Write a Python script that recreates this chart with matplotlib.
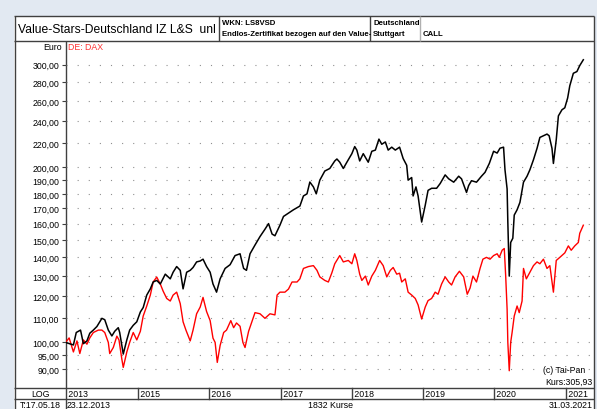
import matplotlib
matplotlib.use('Agg')
import matplotlib.pyplot as plt
from matplotlib.patches import Rectangle
from matplotlib.ticker import FixedLocator, FuncFormatter, NullLocator
from matplotlib.transforms import blended_transform_factory

plt.rcParams['font.family'] = ['Liberation Sans', 'DejaVu Sans']

# Zeit als Dezimaljahr, Kurs in Euro (Zertifikat) bzw. DAX normiert auf Startwert 100
vs_t = [2013.98, 2014.09, 2014.13, 2014.19, 2014.23, 2014.28, 2014.32, 2014.37, 2014.42, 2014.49,
        2014.53, 2014.58, 2014.63, 2014.67, 2014.72, 2014.74, 2014.79, 2014.84, 2014.88, 2014.93,
        2014.98, 2015.03, 2015.07, 2015.12, 2015.17, 2015.21, 2015.26, 2015.31, 2015.38, 2015.45,
        2015.49, 2015.54, 2015.59, 2015.63, 2015.68, 2015.73, 2015.77, 2015.82, 2015.87, 2015.91,
        2015.96, 2016.01, 2016.05, 2016.10, 2016.15, 2016.22, 2016.29, 2016.36, 2016.43, 2016.48,
        2016.52, 2016.57, 2016.64, 2016.71, 2016.78, 2016.83, 2016.88, 2016.92, 2016.99, 2017.04,
        2017.11, 2017.18, 2017.27, 2017.32, 2017.37, 2017.41, 2017.46, 2017.50, 2017.55, 2017.62,
        2017.69, 2017.76, 2017.79, 2017.83, 2017.88, 2017.93, 2018.00, 2018.04, 2018.07, 2018.11,
        2018.16, 2018.23, 2018.28, 2018.33, 2018.38, 2018.42, 2018.47, 2018.51, 2018.56, 2018.61,
        2018.67, 2018.72, 2018.77, 2018.79, 2018.84, 2018.86, 2018.90, 2018.93, 2018.98, 2019.03,
        2019.07, 2019.12, 2019.19, 2019.24, 2019.31, 2019.36, 2019.43, 2019.50, 2019.54, 2019.61,
        2019.64, 2019.68, 2019.75, 2019.82, 2019.87, 2019.93, 2019.99, 2020.04, 2020.08, 2020.13,
        2020.15, 2020.18, 2020.19, 2020.21, 2020.23, 2020.26, 2020.28, 2020.32, 2020.36, 2020.41,
        2020.46, 2020.50, 2020.55, 2020.60, 2020.64, 2020.69, 2020.74, 2020.77, 2020.81, 2020.83,
        2020.87, 2020.90, 2020.95, 2020.99, 2021.03, 2021.06, 2021.11, 2021.16, 2021.20, 2021.25]
vs_v = [100, 99, 104, 105, 99.5, 100.6, 103.7, 105, 106.5, 110,
        109.4, 105, 102.6, 104.5, 106, 104, 95.5, 101, 105, 107,
        108.5, 112.8, 114.8, 120.6, 123.6, 127, 127.8, 126, 131, 128.6,
        132, 135, 133, 123.6, 132, 133, 134.5, 137.5, 138, 139,
        135, 132, 126, 122, 128.6, 134, 136, 141, 142, 134,
        133, 142, 147, 152, 156.5, 160, 153.5, 152.5, 159, 164.6,
        166.8, 169, 171.5, 178.5, 180, 188.6, 185, 180, 190, 197,
        199, 205, 206.6, 204, 199, 204, 211, 217, 214, 205,
        211, 204, 213, 214, 223.5, 219, 221, 214, 216.5, 214,
        216.5, 207, 201.5, 190, 192, 178.5, 185, 178.5, 161, 172,
        182.5, 184, 184, 187.5, 194, 191, 188.5, 193, 191, 181,
        186, 189.6, 188.5, 193, 196, 203, 213, 211.5, 215.6, 216.5,
        198, 183.5, 161, 130, 148.5, 151, 165.5, 169, 174, 188.5,
        193, 198, 206, 215.5, 225, 226.5, 228, 226.5, 215.5, 203,
        223, 245, 251, 253, 263, 276, 290, 292, 299, 305.93]

dax_t = [2013.98, 2014.03, 2014.09, 2014.14, 2014.18, 2014.23, 2014.28, 2014.32, 2014.37, 2014.44,
         2014.49, 2014.53, 2014.58, 2014.60, 2014.65, 2014.70, 2014.73, 2014.77, 2014.79, 2014.84,
         2014.88, 2014.93, 2014.98, 2015.03, 2015.07, 2015.12, 2015.17, 2015.21, 2015.26, 2015.31,
         2015.35, 2015.40, 2015.45, 2015.49, 2015.54, 2015.59, 2015.63, 2015.67, 2015.73, 2015.77,
         2015.82, 2015.87, 2015.91, 2015.96, 2016.01, 2016.05, 2016.08, 2016.11, 2016.15, 2016.20,
         2016.24, 2016.30, 2016.34, 2016.38, 2016.43, 2016.47, 2016.50, 2016.55, 2016.59, 2016.64,
         2016.71, 2016.78, 2016.85, 2016.92, 2016.95, 2016.99, 2017.06, 2017.11, 2017.16, 2017.23,
         2017.27, 2017.32, 2017.39, 2017.46, 2017.51, 2017.55, 2017.62, 2017.67, 2017.72, 2017.76,
         2017.83, 2017.88, 2017.95, 2018.00, 2018.04, 2018.07, 2018.11, 2018.14, 2018.19, 2018.23,
         2018.28, 2018.33, 2018.39, 2018.44, 2018.49, 2018.54, 2018.58, 2018.63, 2018.67, 2018.70,
         2018.75, 2018.79, 2018.84, 2018.89, 2018.93, 2018.98, 2019.03, 2019.07, 2019.12, 2019.17,
         2019.21, 2019.26, 2019.31, 2019.36, 2019.40, 2019.45, 2019.51, 2019.57, 2019.62, 2019.66,
         2019.70, 2019.75, 2019.80, 2019.84, 2019.89, 2019.94, 2019.99, 2020.04, 2020.07, 2020.11,
         2020.14, 2020.16, 2020.18, 2020.19, 2020.21, 2020.23, 2020.25, 2020.28, 2020.32, 2020.35,
         2020.39, 2020.41, 2020.45, 2020.50, 2020.55, 2020.60, 2020.64, 2020.69, 2020.74, 2020.78,
         2020.83, 2020.87, 2020.92, 2020.99, 2021.04, 2021.08, 2021.13, 2021.18, 2021.20, 2021.25]
dax_v = [100, 101.8, 96.3, 100.6, 95.7, 101, 99.3, 101.8, 104, 105,
         105, 104, 100, 95.7, 98, 102.5, 101, 93.6, 90.6, 96.3,
         100, 104, 101, 104.5, 111, 115.5, 120.6, 127, 129.5, 126,
         122.5, 119, 117.8, 120.6, 122, 116.6, 108.5, 105, 100.6, 105,
         112, 115, 119.5, 113, 109, 101.7, 100, 92.4, 98.8, 104,
         105, 109, 106, 108, 106.6, 100, 98, 104.5, 108, 112.5,
         112, 110, 112, 111.5, 120.6, 122, 122, 123.5, 127, 127,
         128.6, 134, 135, 135.5, 133, 129.6, 127.8, 127, 131.8, 136.5,
         141, 137.5, 138.3, 136.5, 142, 138.3, 131, 127.8, 130, 125.5,
         130, 133, 138.3, 135.5, 129.6, 133, 134.5, 131, 131.5, 127,
         128.6, 122, 120.6, 119, 116, 109.7, 115, 118, 119, 122,
         121, 126, 129.6, 127, 125.5, 129.6, 132.5, 129.6, 121, 124,
         130, 127, 134, 139, 140, 139, 141, 142, 140, 144,
         145, 130, 114, 100, 89.4, 100, 104, 111, 115.5, 112.5,
         117.8, 134, 128.6, 132, 135.5, 137.5, 136.5, 139, 134, 135.5,
         122, 138.3, 140, 142.5, 146.5, 144, 146.5, 148.5, 154, 159]

y_ticks = [90, 95, 100, 110, 120, 130, 140, 150, 160, 170, 180, 190, 200, 220, 240, 260, 280, 300]
years = [2015, 2016, 2017, 2018, 2019, 2020, 2021]

W, H = 597, 410
fig = plt.figure(figsize=(W / 100, H / 100), dpi=100)
fig.patch.set_facecolor('#e2e9f2')

# Rahmen und Kopfzeilen in Pixelkoordinaten
bg = fig.add_axes([0, 0, 1, 1])
bg.set_xlim(0, W)
bg.set_ylim(H, 0)
bg.axis('off')
bg.add_patch(Rectangle((14, 17), 580, H - 17, facecolor='white', edgecolor='none'))

fc = '#404040'
def hline(y, x0, x1, c=fc):
    bg.plot([x0, x1], [y, y], color=c, lw=1, solid_capstyle='butt')
def vline(x, y0, y1, c=fc):
    bg.plot([x, x], [y0, y1], color=c, lw=1, solid_capstyle='butt')

hline(17, 14, 594)
hline(42, 14, 594)
hline(389, 14, 594)
hline(400, 14, 594)
vline(14.5, 17, H)
vline(594, 17, H)
vline(66, 42, H)
vline(219, 17, 42)
vline(370, 17, 42)
vline(420, 17, 42, c='#b0b0b0')

bg.text(18, 30, 'Value-Stars-Deutschland IZ L&S  unl', fontsize=8.7, va='center', ha='left')
bg.text(222, 23.5, 'WKN: LS8VSD', fontsize=5.6, fontweight='bold', va='center')
bg.text(222, 35, 'Endlos-Zertifikat bezogen auf den Value-', fontsize=5.6, fontweight='bold', va='center')
bg.text(373, 23.5, 'Deutschland', fontsize=5.6, fontweight='bold', va='center')
bg.text(373, 35, 'Stuttgart', fontsize=5.6, fontweight='bold', va='center')
bg.text(423, 35, 'CALL', fontsize=5.6, fontweight='bold', va='center')

bg.text(62, 48, 'Euro', fontsize=6.3, ha='right', va='center')
bg.text(68, 48, 'DE: DAX', fontsize=6.3, ha='left', va='center', color='#ff3030')
bg.text(40, 394.5, 'LOG', fontsize=6.3, ha='center', va='center')
bg.text(40, 405.5, 'T:17.05.18', fontsize=6.3, ha='center', va='center')
bg.text(67, 405.5, '23.12.2013', fontsize=6.3, ha='left', va='center')
bg.text(331, 405.5, '1832 Kurse', fontsize=6.3, ha='center', va='center')
bg.text(593, 405.5, '31.03.2021', fontsize=6.3, ha='right', va='center')
bg.text(543, 370.5, '(c) Tai-Pan', fontsize=6.3, ha='left', va='center')
bg.text(593, 382.5, 'Kurs:305,93', fontsize=6.3, ha='right', va='center')

# Kursdiagramm
ax = fig.add_axes([66 / W, (H - 389) / H, (594 - 66) / W, (389 - 42) / H])
ax.patch.set_alpha(0)
ax.set_yscale('log')
ax.set_ylim(83.5, 329.5)
ax.set_xlim(2013.986, 2021.40)
for s in ax.spines.values():
    s.set_visible(False)

ax.plot(dax_t, dax_v, color='#ff0000', lw=1.0, zorder=3)
ax.plot(vs_t, vs_v, color='#000000', lw=1.1, zorder=4)

ax.yaxis.set_major_locator(FixedLocator(y_ticks))
ax.yaxis.set_minor_locator(NullLocator())
ax.yaxis.set_major_formatter(FuncFormatter(lambda v, p: f'{v:.2f}'.replace('.', ',')))
ax.tick_params(axis='y', length=3, width=0.8, labelsize=6.3, pad=2, color='#404040')
ax.xaxis.set_major_locator(NullLocator())
ax.yaxis.grid(True, linestyle=(0, (1, 9)), color='#909090', lw=0.8)

# Jahreszeile
px = bg.transData
tr = blended_transform_factory(ax.transData, px)
ax.text(2013.986, 394.5, ' 2013', transform=tr, fontsize=6.3, ha='left', va='center', clip_on=False)
for yr in years:
    ax.plot([yr, yr], [389, 400], transform=tr, color=fc, lw=1, clip_on=False)
    ax.text(yr, 394.5, ' ' + str(yr), transform=tr, fontsize=6.3, ha='left', va='center', clip_on=False)

fig.savefig('out.png', dpi=100)
